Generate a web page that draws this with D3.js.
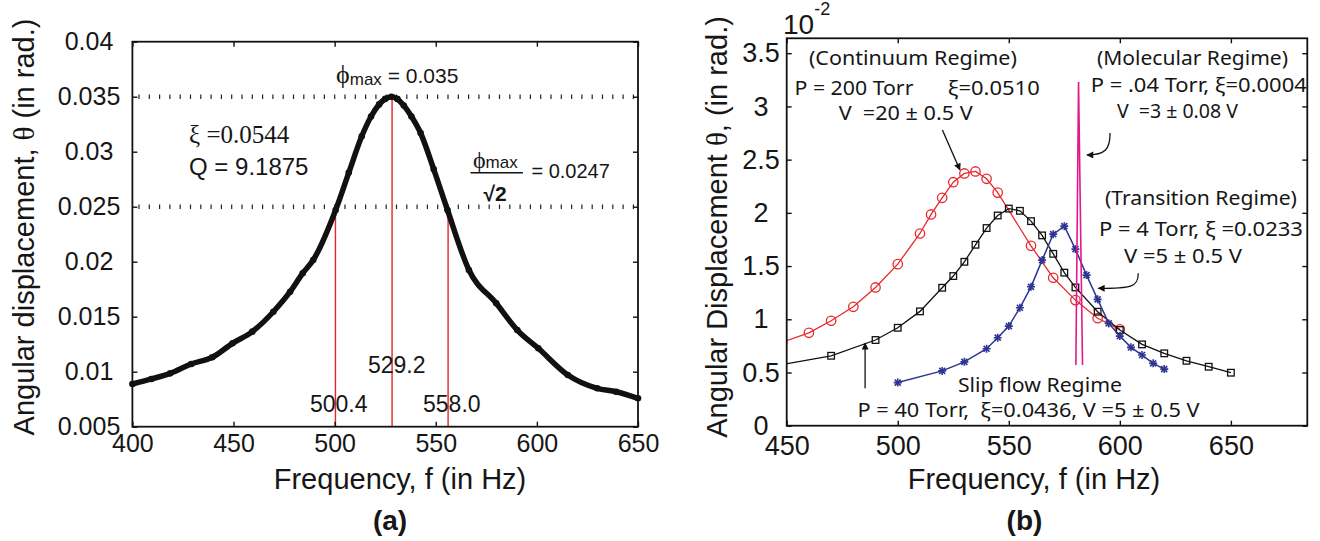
<!DOCTYPE html>
<html><head>
<meta charset="utf-8">
<script src="https://cdn.jsdelivr.net/npm/d3@7"></script>
<title>Angular displacement vs frequency</title>
<style>
body{margin:0;background:#fff;}
svg text{font-family:"Liberation Sans",Arial,sans-serif;fill:#161616;}
.note{font-family:"Noto Sans",sans-serif;font-size:19.5px;white-space:pre;}
</style>
</head>
<body>
<svg id="fig" width="1320" height="541"></svg>
<script>
// ---- panel (a): single resonance curve ----
const freqA  = [400,409.4,418.7,429.1,439.5,449.5,459.3,469.7,478,484.2,489.4,500.5,507,513.4,518,522,525,528.1,531,534.2,538,542.5,549,555.8,566.4,579.9,590.3,600.7,615.3,629.8,639.2,650];
const thetaA = [0.00888,0.00934,0.00985,0.0107,0.01131,0.01258,0.01364,0.01545,0.01727,0.01895,0.02015,0.0247,0.0281,0.0314,0.0332,0.0343,0.0348,0.035,0.0348,0.0342,0.0332,0.0317,0.0284,0.0247,0.01925,0.01622,0.01379,0.01213,0.0097,0.00849,0.00818,0.00758];
const markFreqA  = [500.4, 528.4, 556.1];      // red drop lines
const markThetaA = [0.0247, 0.035, 0.0247];
const markLabelA = ["500.4", "529.2", "558.0"];
const levelsA = [0.035, 0.025];                // dotted levels
const xTicksA = [400,450,500,550,600,650];
const yTicksA = [0.005,0.01,0.015,0.02,0.025,0.03,0.035,0.04];

// ---- panel (b): four regimes (theta in 1e-2 rad) ----
const freqRed   = [448,460,470,480,490,500,510,515,520,525,530,535,540,545,560,570,580,590,600];
const thetaRed  = [0.785,0.873,0.986,1.117,1.299,1.518,1.806,1.985,2.141,2.288,2.37,2.389,2.32,2.19,1.69,1.39,1.18,1.01,0.905];
const freqBlack  = [448,470,490,500,510,520,525,530,535,540,545,550,555,560,565,570,575,580,590,600,610,620,630,640,650];
const thetaBlack = [0.575,0.657,0.805,0.92,1.074,1.296,1.406,1.54,1.7,1.857,1.975,2.04,2.019,1.922,1.788,1.615,1.438,1.299,1.071,0.899,0.764,0.68,0.61,0.554,0.498];
const freqBlue  = [500,520,530,540,545,550,555,560,565,570,575,580,585,590,595,600,605,610,615,620];
const thetaBlue = [0.405,0.515,0.6,0.723,0.827,0.936,1.108,1.305,1.556,1.8,1.875,1.659,1.415,1.187,0.961,0.842,0.736,0.664,0.586,0.532];
const freqMag  = [580.2, 581.4, 583.2];
const thetaMag = [0.57, 3.23, 0.57];
const xTicksB = [450,500,550,600,650];
const yTicksB = [0,0.5,1,1.5,2,2.5,3,3.5];

const SERIF = "'Liberation Serif', 'DejaVu Serif', serif";
const svg = d3.select("#fig");

// ================= panel (a) =================
const xA = d3.scaleLinear().domain([400,650]).range([132.4,638]);
const yA = d3.scaleLinear().domain([0.005,0.04]).range([426.7,41.7]);
const gA = svg.append("g");

// dotted levels
gA.selectAll("line.level").data(levelsA).enter().append("line")
  .attr("x1", xA(400)).attr("x2", xA(650))
  .attr("y1", d => yA(d)).attr("y2", d => yA(d))
  .attr("stroke", "#222").attr("stroke-width", 4.5)
  .attr("stroke-dasharray", "1.2 9.1").attr("stroke-dashoffset", -6);

// red drop lines
gA.selectAll("line.mark").data(markFreqA).enter().append("line")
  .attr("x1", d => xA(d)).attr("x2", d => xA(d))
  .attr("y1", yA(0.005)).attr("y2", (d,i) => yA(markThetaA[i]))
  .attr("stroke", "#e3262b").attr("stroke-width", 1.4);

// thick response curve
const ptsA = freqA.map((f,i) => [f, thetaA[i]]);
gA.append("path").datum(ptsA)
  .attr("d", d3.line().x(d => xA(d[0])).y(d => yA(d[1])).curve(d3.curveMonotoneX))
  .attr("fill", "none").attr("stroke", "#111").attr("stroke-width", 5.5)
  .attr("stroke-linejoin", "round");
gA.selectAll("circle").data(ptsA).enter().append("circle")
  .attr("cx", d => xA(d[0])).attr("cy", d => yA(d[1])).attr("r", 3.3).attr("fill", "#111");

// box + inward ticks
gA.append("rect").attr("x", xA(400)).attr("y", yA(0.04))
  .attr("width", xA(650)-xA(400)).attr("height", yA(0.005)-yA(0.04))
  .attr("fill", "none").attr("stroke", "#111").attr("stroke-width", 1.8);

function styleAxis(g, size){
  g.attr("font-size", null).attr("font-family", null);
  g.select(".domain").remove();
  g.selectAll(".tick line").attr("stroke", "#111").attr("stroke-width", 1.4);
  g.selectAll(".tick text").attr("font-size", size).attr("fill", "#161616");
}

gA.append("g").attr("transform", `translate(0,${yA(0.005)})`)
  .call(d3.axisBottom(xA).tickValues(xTicksA).tickSizeInner(-5).tickSizeOuter(0).tickPadding(8).tickFormat(d => d))
  .call(g => styleAxis(g, 25));
gA.append("g").attr("transform", `translate(0,${yA(0.04)})`)
  .call(d3.axisTop(xA).tickValues(xTicksA).tickSizeInner(-5).tickSizeOuter(0).tickFormat(""))
  .call(g => styleAxis(g, 25));
gA.append("g").attr("transform", `translate(${xA(400)},0)`)
  .call(d3.axisLeft(yA).tickValues(yTicksA).tickSizeInner(-5).tickSizeOuter(0).tickFormat(d => d))
  .call(g => styleAxis(g, 25))
  .call(g => g.selectAll(".tick text").attr("text-anchor", "middle").attr("x", 89 - 132.4));
gA.append("g").attr("transform", `translate(${xA(650)},0)`)
  .call(d3.axisRight(yA).tickValues(yTicksA).tickSizeInner(-5).tickSizeOuter(0).tickFormat(""))
  .call(g => styleAxis(g, 25));

// titles
gA.append("text").attr("transform", "translate(34,227) rotate(-90)")
  .attr("text-anchor", "middle").attr("font-size", 29)
  .call(t => {
    t.append("tspan").text("Angular displacement, ");
    t.append("tspan").style("font-family", SERIF).text("θ");
    t.append("tspan").text(" (in rad.)");
  });
gA.append("text").attr("x", 400).attr("y", 489).attr("text-anchor", "middle")
  .attr("font-size", 29).text("Frequency, f (in Hz)");
gA.append("text").attr("x", 390).attr("y", 530).attr("text-anchor", "middle")
  .attr("font-size", 28).attr("font-weight", "bold").text("(a)");

// annotations (a)
gA.append("text").attr("x", xA(500.7)).attr("y", yA(0.03625)).attr("font-size", 21)
  .call(t => {
    t.append("tspan").style("font-family", SERIF).attr("font-size", 26).text("ϕ");
    t.append("tspan").attr("font-size", 17).attr("dy", 2).text("max");
    t.append("tspan").attr("dy", -2).text(" = 0.035");
  });
gA.append("text").attr("x", xA(428)).attr("y", yA(0.03079))
  .style("font-family", SERIF).attr("font-size", 25).text("ξ =0.0544");
gA.append("text").attr("x", xA(428)).attr("y", yA(0.02788)).attr("font-size", 24).text("Q = 9.1875");
// phi_max / sqrt(2) fraction
gA.append("text").attr("x", xA(568.4)).attr("y", yA(0.02852)).attr("font-size", 17)
  .call(t => {
    t.append("tspan").style("font-family", SERIF).attr("font-size", 24).text("ϕ");
    t.append("tspan").text("max");
  });
gA.append("line").attr("x1", xA(567.2)).attr("x2", xA(593.1))
  .attr("y1", yA(0.02808)).attr("y2", yA(0.02808)).attr("stroke", "#111").attr("stroke-width", 1.6);
gA.append("text").attr("x", xA(573.6)).attr("y", yA(0.02556)).attr("font-size", 21)
  .attr("font-weight", "bold").text("√2");
gA.append("text").attr("x", xA(597.3)).attr("y", yA(0.02761)).attr("font-size", 20).text("= 0.0247");
// frequency labels
const labPos = [[487.8, 0.00636], [516.5, 0.00988], [543.7, 0.00636]];
gA.selectAll("text.fl").data(markLabelA).enter().append("text")
  .attr("x", (d,i) => xA(labPos[i][0])).attr("y", (d,i) => yA(labPos[i][1]))
  .attr("font-size", 23).text(d => d);

// ================= panel (b) =================
const xB = d3.scaleLinear().domain([450,684.4]).range([786.7,1307.3]);
const yB = d3.scaleLinear().domain([0,3.64]).range([425.7,38.3]);
const gB = svg.append("g");

svg.append("clipPath").attr("id", "clipB").append("rect")
  .attr("x", xB(450)).attr("y", yB(3.64)).attr("width", xB(684.4)-xB(450)).attr("height", yB(0)-yB(3.64));
const plotB = gB.append("g").attr("clip-path", "url(#clipB)");

const lineB = d3.line().x(d => xB(d[0])).y(d => yB(d[1]));
const zipB = (f, v) => f.map((x,i) => [x, v[i]]);

const red = zipB(freqRed, thetaRed), black = zipB(freqBlack, thetaBlack),
      blue = zipB(freqBlue, thetaBlue), mag = zipB(freqMag, thetaMag);

const cRed = "#e8282a", cBlue = "#2e3592", cMag = "#e2178e";

plotB.append("path").datum(red).attr("d", lineB).attr("fill", "none").attr("stroke", cRed).attr("stroke-width", 1.3);
plotB.selectAll("circle.red").data(red).enter().append("circle")
  .attr("cx", d => xB(d[0])).attr("cy", d => yB(d[1])).attr("r", 4.7)
  .attr("fill", "none").attr("stroke", cRed).attr("stroke-width", 1.3);

plotB.append("path").datum(black).attr("d", lineB).attr("fill", "none").attr("stroke", "#111").attr("stroke-width", 1.3);
plotB.selectAll("rect.blk").data(black).enter().append("rect")
  .attr("x", d => xB(d[0]) - 3.3).attr("y", d => yB(d[1]) - 3.3).attr("width", 6.6).attr("height", 6.6)
  .attr("fill", "none").attr("stroke", "#111").attr("stroke-width", 1.3);

plotB.append("path").datum(blue).attr("d", lineB).attr("fill", "none").attr("stroke", cBlue).attr("stroke-width", 1.5);
const star = plotB.selectAll("g.star").data(blue).enter().append("g")
  .attr("transform", d => `translate(${xB(d[0])},${yB(d[1])})`);
[[-4,0,4,0],[0,-4,0,4],[-3,-3,3,3],[-3,3,3,-3]].forEach(s =>
  star.append("line").attr("x1", s[0]).attr("y1", s[1]).attr("x2", s[2]).attr("y2", s[3])
    .attr("stroke", cBlue).attr("stroke-width", 1.6));

plotB.append("path").datum(mag).attr("d", lineB).attr("fill", "none").attr("stroke", cMag).attr("stroke-width", 1.6);

// box + ticks
gB.append("rect").attr("x", xB(450)).attr("y", yB(3.64))
  .attr("width", xB(684.4)-xB(450)).attr("height", yB(0)-yB(3.64))
  .attr("fill", "none").attr("stroke", "#111").attr("stroke-width", 1.8);
gB.append("g").attr("transform", `translate(0,${yB(0)})`)
  .call(d3.axisBottom(xB).tickValues(xTicksB).tickSizeInner(-5).tickSizeOuter(0).tickPadding(10).tickFormat(d => d))
  .call(g => styleAxis(g, 27));
gB.append("g").attr("transform", `translate(0,${yB(3.64)})`)
  .call(d3.axisTop(xB).tickValues(xTicksB).tickSizeInner(-5).tickSizeOuter(0).tickFormat(""))
  .call(g => styleAxis(g, 27));
gB.append("g").attr("transform", `translate(${xB(450)},0)`)
  .call(d3.axisLeft(yB).tickValues(yTicksB).tickSizeInner(-5).tickSizeOuter(0).tickFormat(d => d))
  .call(g => styleAxis(g, 27))
  .call(g => g.selectAll(".tick text").attr("text-anchor", "middle").attr("x", 761 - 786.7));
gB.append("g").attr("transform", `translate(${xB(684.4)},0)`)
  .call(d3.axisRight(yB).tickValues(yTicksB).tickSizeInner(-5).tickSizeOuter(0).tickFormat(""))
  .call(g => styleAxis(g, 27));

// exponent
gB.append("text").attr("x", 783).attr("y", 34).attr("font-size", 28)
  .call(t => {
    t.append("tspan").text("10");
    t.append("tspan").attr("font-size", 18).attr("dy", -19).text("-2");
  });

// titles
gB.append("text").attr("transform", "translate(727,227) rotate(-90)")
  .attr("text-anchor", "middle").attr("font-size", 29)
  .call(t => {
    t.append("tspan").text("Angular Displacement ");
    t.append("tspan").style("font-family", SERIF).text("θ");
    t.append("tspan").text(", (in rad.)");
  });
gB.append("text").attr("x", 1034).attr("y", 489).attr("text-anchor", "middle")
  .attr("font-size", 29).text("Frequency, f (in Hz)");
gB.append("text").attr("x", 1024.5).attr("y", 530).attr("text-anchor", "middle")
  .attr("font-size", 28).attr("font-weight", "bold").text("(b)");

// regime notes (position in data units, target width in px)
const notesB = [
  ["(Continuum Regime)", 460.0, 3.39, 208],
  ["P = 200 Torr", 453.5, 3.108, 119],
  ["ξ=0.0510", 522.5, 3.108, 92],
  ["V  =20 ± 0.5 V", 473.4, 2.873, 134],
  ["(Molecular Regime)", 589.7, 3.39, 191],
  ["P = .04 Torr, ξ=0.0004", 586.9, 3.136, 216],
  ["V  =3 ± 0.08 V", 598.7, 2.892, 121],
  ["(Transition Regime)", 593.3, 2.074, 192],
  ["P = 4 Torr, ξ =0.0233", 590.6, 1.785, 204],
  ["V =5 ± 0.5 V", 601.9, 1.532, 118],
  ["Slip flow Regime", 527.1, 0.318, 164],
  ["P = 40 Torr,  ξ=0.0436, V =5 ± 0.5 V", 481.9, 0.082, 342]
];
gB.selectAll("text.note").data(notesB).enter().append("text").attr("class", "note")
  .attr("x", d => xB(d[1])).attr("y", d => yB(d[2]))
  .attr("textLength", d => d[3]).attr("lengthAdjust", "spacingAndGlyphs")
  .text(d => d[0]);

// arrows
const defs = svg.append("defs");
defs.append("marker").attr("id", "ah").attr("viewBox", "0 0 10 10")
  .attr("refX", 9).attr("refY", 5).attr("markerWidth", 8).attr("markerHeight", 7)
  .attr("markerUnits", "userSpaceOnUse").attr("orient", "auto")
  .append("path").attr("d", "M0,0 L10,5 L0,10 z").attr("fill", "#111");

const arrows = [
  {from: [520.1, 2.779], to: [528.0, 2.403]},
  {from: [595.6, 2.751], c1: [595.6, 2.60], c2: [593.5, 2.544], to: [585.2, 2.544]},
  {from: [608.3, 1.432], c1: [608.3, 1.30], c2: [605.0, 1.291], to: [590.3, 1.291]},
  {from: [485.3, 0.351], to: [485.3, 0.774]}
];
arrows.forEach(a => {
  const p = d3.path();
  p.moveTo(xB(a.from[0]), yB(a.from[1]));
  if (a.c1) p.bezierCurveTo(xB(a.c1[0]), yB(a.c1[1]), xB(a.c2[0]), yB(a.c2[1]), xB(a.to[0]), yB(a.to[1]));
  else p.lineTo(xB(a.to[0]), yB(a.to[1]));
  gB.append("path").attr("d", p.toString()).attr("fill", "none")
    .attr("stroke", "#111").attr("stroke-width", 1.3).attr("marker-end", "url(#ah)");
});
</script>
</body>
</html>
